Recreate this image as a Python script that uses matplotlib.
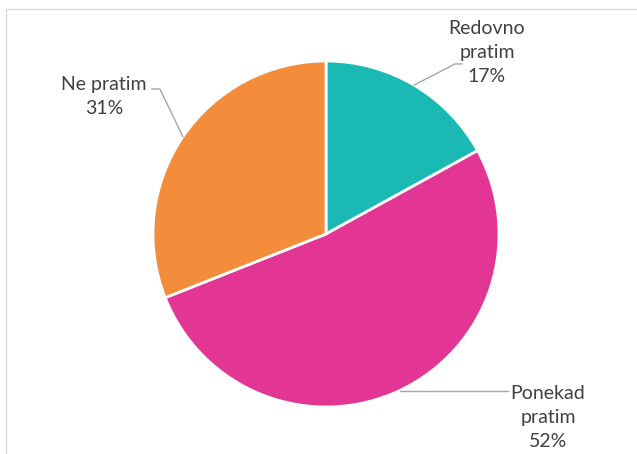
import numpy as np
import matplotlib.pyplot as plt
from matplotlib.patches import Rectangle

# Podaci
labels = ['Redovno\npratim', 'Ponekad\npratim', 'Ne pratim']
shares = [17, 52, 31]
colors = ['#1BB9B3', '#E33594', '#F38D3C']

# label centre (data units) and elbow of leader line for each slice
label_pos = [(0.93, 1.047), (1.283, -1.058), (-1.283, 0.795)]
elbows = [[(0.746, 0.983), (0.786, 0.983)],
          [(1.052, None)],
          [(-0.96, 0.838), (-1.006, 0.838)]]

W, H = 637, 454
fig = plt.figure(figsize=(W / 100, H / 100), dpi=100)
plt.rcParams['font.family'] = ['Lato', 'DejaVu Sans']

# pie centre ~ (326, 234) px, radius ~173 px
cx, cy, r = 326, 234, 173
ax = fig.add_axes([(cx - r) / W, (H - cy - r) / H, 2 * r / W, 2 * r / H])

wedges, _ = ax.pie(shares, colors=colors, startangle=90, counterclock=False,
                   radius=1, wedgeprops=dict(edgecolor='white', linewidth=2))
ax.set_xlim(-1, 1)
ax.set_ylim(-1, 1)
ax.axis('off')

for w, lab, pct, (lx, ly), elb in zip(wedges, labels, shares, label_pos, elbows):
    mid = np.deg2rad((w.theta1 + w.theta2) / 2)
    x0, y0 = np.cos(mid), np.sin(mid)
    xs, ys = [x0], [y0]
    for ex, ey in elb:
        xs.append(ex)
        ys.append(y0 if ey is None else ey)
    ax.plot(xs, ys, color='#A6A6A6', lw=1, clip_on=False)
    ax.text(lx, ly, f'{lab}\n{pct}%', ha='center', va='center', fontsize=14,
            color='#404040', linespacing=1.5, clip_on=False)

# okvir grafikona
fig.patches.append(Rectangle((5.5 / W, -0.2), 1.2, (H - 9) / H + 0.2,
                             transform=fig.transFigure, fill=False,
                             edgecolor='#D9D9D9', lw=1))

fig.savefig('out.png', dpi=100)
